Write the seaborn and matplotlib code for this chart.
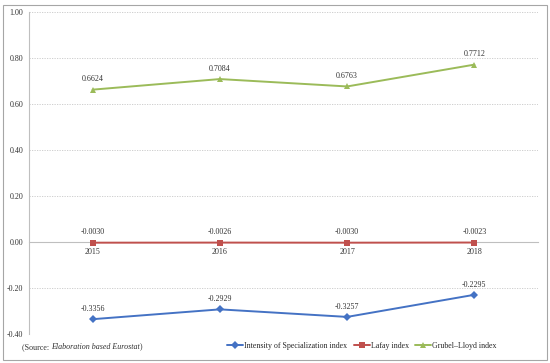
import pandas as pd
import seaborn as sns
import matplotlib.pyplot as plt
from matplotlib.patches import Rectangle

years = ["2015", "2016", "2017", "2018"]
series_names = ["Intensity of Specialization index", "Lafay index", "Grubel\u2013Lloyd index"]
intensity = [-0.3356, -0.2929, -0.3257, -0.2295]
lafay = [-0.0030, -0.0026, -0.0030, -0.0023]
grubel = [0.6624, 0.7084, 0.6763, 0.7712]
y_ticks = [-0.40, -0.20, 0.00, 0.20, 0.40, 0.60, 0.80, 1.00]

colors = ["#4472C4", "#C0504D", "#9BBB59"]
markers = ["D", "s", "^"]


def main():
    sns.set_style("white")
    plt.rcParams["font.family"] = ["Liberation Serif", "DejaVu Serif"]

    df = pd.DataFrame({
        "year": years * 3,
        "value": intensity + lafay + grubel,
        "series": [s for s in series_names for _ in years],
    })

    fig = plt.figure(figsize=(5.5, 3.63), dpi=100)
    ax = fig.add_axes([29 / 550, 1 - 334 / 363, 509 / 550, 322 / 363])

    sns.lineplot(data=df, x="year", y="value", hue="series", style="series",
                 hue_order=series_names, style_order=series_names,
                 palette=colors, markers=markers, dashes=False,
                 markersize=4.5, markeredgewidth=0, linewidth=1.4,
                 sort=False, zorder=4, ax=ax)

    for vals in [intensity, lafay, grubel]:
        for i, v in enumerate(vals):
            ax.annotate(f"{v:.4f}", (i, v), xytext=(0, 4.5), textcoords="offset points",
                        ha="center", va="bottom", fontsize=5.8, color="#333333")

    ax.set_xlim(-0.5, 3.5)
    ax.set_ylim(-0.40, 1.00)
    ax.set_yticks(y_ticks)
    ax.set_yticklabels([f"{t:.2f}" for t in y_ticks])
    ax.grid(True, axis="y", linestyle=(0, (1.5, 1.5)), color="#c8c8c8", linewidth=0.6)
    ax.set_xlabel("")
    ax.set_ylabel("")
    ax.tick_params(axis="both", length=0, labelsize=5.8, colors="#333333", pad=4)
    ax.tick_params(axis="x", pad=4.5)

    for s in ["top", "right"]:
        ax.spines[s].set_visible(False)
    ax.spines["left"].set_color("#bfbfbf")
    ax.spines["left"].set_linewidth(0.8)
    ax.spines["bottom"].set_position(("data", 0))
    ax.spines["bottom"].set_color("#bfbfbf")
    ax.spines["bottom"].set_linewidth(0.8)
    ax.set_axisbelow(True)

    handles, labels = ax.get_legend_handles_labels()
    ax.legend_.remove()
    fig.legend(handles, labels, loc="center", bbox_to_anchor=(362 / 550, 1 - 346 / 363),
               ncol=3, frameon=False, fontsize=5.7, handlelength=2.0, handletextpad=0.15,
               columnspacing=0.8, borderaxespad=0)

    src = fig.text(22 / 550, 1 - 347 / 363, "(Source: ", fontsize=5.8, va="center",
                   ha="left", color="#333333")
    mid = ax.annotate("Elaboration based Eurostat", xy=(1, 0.5), xycoords=src,
                      fontsize=5.8, style="italic", va="center", ha="left",
                      color="#333333", annotation_clip=False)
    ax.annotate(")", xy=(1, 0.5), xycoords=mid, fontsize=5.8, va="center", ha="left",
                color="#333333", annotation_clip=False)

    fig.patches.append(Rectangle((3 / 550, 3 / 363), 544 / 550, 355 / 363,
                                 transform=fig.transFigure, fill=False,
                                 edgecolor="#a6a6a6", linewidth=0.8))

    fig.savefig("out.png", dpi=100)
    plt.close(fig)


if __name__ == "__main__":
    main()
